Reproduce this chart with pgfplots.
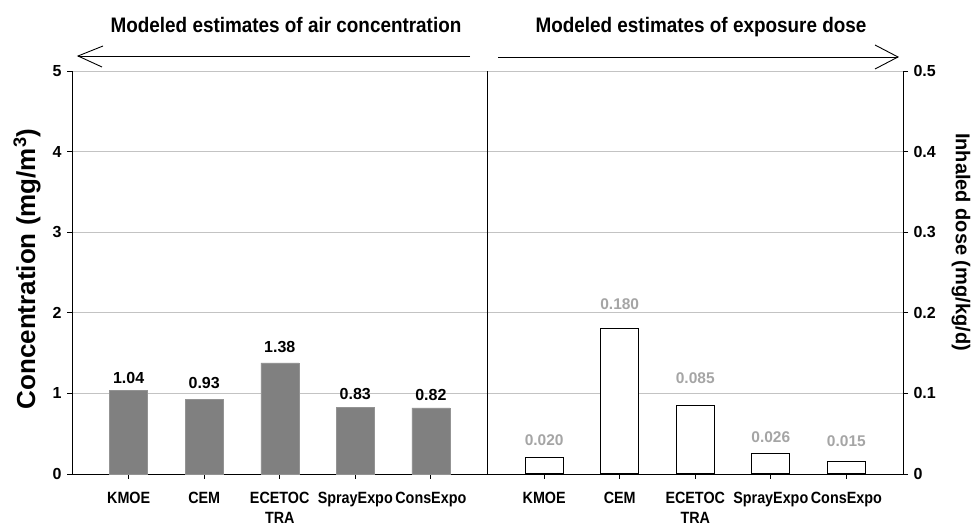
\documentclass[border=0pt]{standalone}
\usepackage{fontspec}
\setmainfont{Liberation Sans}
\newfontfamily\condfont[FakeStretch=0.88]{Liberation Sans}
\newfontfamily\ttlfont[FakeStretch=0.9]{Liberation Sans}
\usepackage{pgfplots}
\usepackage{pgfplotstable}
\pgfplotsset{compat=1.18}

\definecolor{barg}{RGB}{128,128,128}
\definecolor{gridg}{RGB}{195,195,195}
\definecolor{lblg}{RGB}{165,165,165}

\pgfplotstableread{
x y off
0 1.04 3
1 0.93 7
2 1.38 7
3 0.83 4
4 0.82 4
}\concdata

\pgfplotstableread{
x y off
5.5 0.020 8
6.5 0.180 15
7.5 0.085 18
8.5 0.026 7
9.5 0.015 11
}\dosedata

\begin{document}
\begin{tikzpicture}[x=1pt,y=1pt]
\useasboundingbox (0,0) rectangle (973,529);
\begin{axis}[
 at={(72pt,55pt)}, anchor=south west, scale only axis, width=831pt, height=403pt,
 xmin=-0.75, xmax=10.25, ymin=0, ymax=5,
 axis x line*=bottom, axis y line*=left,
 ytick={0,1,2,3,4,5},
 xtick={0,1,2,3,4,5.5,6.5,7.5,8.5,9.5},
 xticklabels={KMOE,CEM,ECETOC\\TRA,SprayExpo,ConsExpo,KMOE,CEM,ECETOC\\TRA,SprayExpo,ConsExpo},
 xticklabel style={align=center, font=\condfont\fontsize{16.3}{19.5}\selectfont\bfseries, yshift=-10pt},
 yticklabel style={font=\fontsize{16}{16}\selectfont\bfseries, xshift=-2pt},
 /pgf/number format/assume math mode=true,
 tick align=outside, major tick length=5pt,
 ymajorgrids, grid style={gridg, line width=0.7pt},
 axis line style={black, line width=0.8pt},
 tick style={black, line width=0.8pt},
 clip=false,
]
\addplot[ybar, bar width=38pt, fill=barg, draw=barg!85!white,
  visualization depends on={\thisrow{off}\as\myoff},
  nodes near coords={\pgfmathprintnumber[fixed,fixed zerofill,precision=2]{\pgfplotspointmeta}},
  nodes near coords style={font=\fontsize{16}{16}\selectfont\bfseries, black, yshift=\myoff pt}]
  table[x=x,y=y] {\concdata};
\draw[black, line width=0.8pt] (axis cs:4.75,0) -- (axis cs:4.75,5);
\end{axis}
\begin{axis}[
 at={(72pt,55pt)}, anchor=south west, scale only axis, width=831pt, height=403pt,
 xmin=-0.75, xmax=10.25, ymin=0, ymax=0.5,
 axis y line*=right, axis x line=none,
 ytick={0,0.1,0.2,0.3,0.4,0.5},
 yticklabel style={font=\fontsize{16}{16}\selectfont\bfseries, /pgf/number format/fixed, xshift=2pt},
 /pgf/number format/assume math mode=true,
 tick align=outside, major tick length=5pt,
 axis line style={black, line width=0.8pt},
 tick style={black, line width=0.8pt},
 clip=false,
]
\addplot[ybar, bar width=38pt, fill=white, draw=black, line width=1pt,
  visualization depends on={\thisrow{off}\as\myoff},
  nodes near coords={\pgfmathprintnumber[fixed,fixed zerofill,precision=3]{\pgfplotspointmeta}},
  nodes near coords style={font=\fontsize{15.5}{15.5}\selectfont\bfseries, lblg, yshift=\myoff pt}]
  table[x=x,y=y] {\dosedata};
\end{axis}
\node[anchor=base, font=\ttlfont\fontsize{21}{21}\selectfont\bfseries] at (286,496) {Modeled estimates of air concentration};
\node[anchor=base, font=\ttlfont\fontsize{21}{21}\selectfont\bfseries] at (701,496) {Modeled estimates of exposure dose};
\draw[line width=0.9pt] (470,473) -- (78,473);
\draw[line width=0.9pt] (103,483) -- (78,473) -- (102,462);
\draw[line width=0.9pt] (498,472) -- (898,472);
\draw[line width=0.9pt] (875,484) -- (898,472) -- (875,460);
\node[rotate=90, font=\fontsize{26}{26}\selectfont\bfseries] at (27,260) {Concentration (mg/m\textsuperscript{3})};
\node[rotate=-90, font=\fontsize{20}{20}\selectfont\bfseries] at (961,287) {Inhaled dose (mg/kg/d)};
\end{tikzpicture}
\end{document}
